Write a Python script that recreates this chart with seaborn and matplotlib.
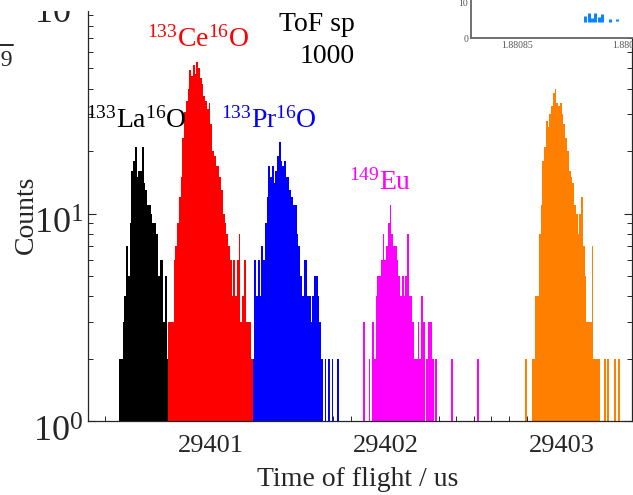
import numpy as np
import pandas as pd
import matplotlib
matplotlib.use("Agg")
import matplotlib.pyplot as plt
import matplotlib.transforms as mtransforms
import seaborn as sns
from matplotlib.ticker import (MultipleLocator, LogLocator, FixedLocator, NullFormatter,
                               FixedFormatter, LogFormatterSciNotation)
from matplotlib.lines import Line2D
from matplotlib.patches import Rectangle

# ---------------- data ----------------
species = ["133La16O", "133Ce16O", "133Pr16O", "149Eu", "other"]
colors = ["#000000", "#FF0000", "#0000FF", "#FF00FF", "#FF8000"]
bin_width = 0.01
starts = [29400.48, 29400.76, 29401.24, 29401.87, 29402.79]

la_counts = [2, 2, 3, 4, 7, 5, 9, 16, 18, 21, 15, 16, 16, 21, 14, 13, 11, 11, 10, 9,
             9, 8, 5, 6, 6, 3, 5, 2]
ce_counts = [3, 3, 3, 6, 7, 9, 12, 15, 23, 31, 35, 40, 49, 46, 52, 47, 54, 50, 45, 42,
             37, 35, 32, 34, 27, 20, 19, 17, 17, 15, 13, 10, 9, 8, 7, 6, 4, 6, 4, 6,
             8, 3, 4, 6, 3, 3, 3, 2]
pr_counts = [2, 6, 4, 6, 4, 7, 6, 9, 12, 17, 15, 17, 14, 16, 19, 22, 18, 17, 18, 15,
             15, 13, 12, 11, 11, 8, 7, 5, 4, 6, 6, 4, 4, 3, 4, 5, 5, 4, 3, 2,
             1, 2, 1, 2, 1, 2, 1, 1, 2, 0]
eu_counts = [3, 0, 0, 2, 0, 3, 2, 4, 5, 5, 6, 8, 6, 7, 9, 11, 8, 7, 7, 6,
             5, 4, 5, 4, 5, 8, 4, 4, 3, 2, 2, 3, 2, 4, 3, 0, 2, 3, 3, 2,
             0, 2, 0, 0, 0, 0, 0, 0, 0, 0, 2, 0, 0, 0, 0, 0, 0, 0, 0, 0,
             0, 0, 0, 0, 0, 2]
x_counts = [2, 0, 0, 0, 2, 2, 4, 4, 8, 11, 18, 21, 28, 26, 30, 33, 38, 40, 34, 33,
            34, 30, 27, 23, 20, 16, 15, 14, 11, 10, 8, 10, 12, 7, 5, 3, 3, 3, 7, 2,
            2, 2, 2, 0, 0, 2, 0, 2, 0, 0, 0, 2, 0, 2]
all_counts = [la_counts, ce_counts, pr_counts, eu_counts, x_counts]

x_ticks = [29401, 29402, 29403]
x_tick_labels = ["29401", "29402", "29403"]
y_ticks = [1, 10, 100]

# inset data
inset_x = [1.8808815, 1.880883, 1.8808845, 1.880886, 1.8808875, 1.880889, 1.8808927, 1.880896]
inset_lo = [4.4, 4.4, 4.4, 4.4, 4.4, 4.4, 4.5, 4.6]
inset_hi = [6.0, 6.9, 5.5, 7.0, 5.9, 6.6, 5.3, 5.2]
inset_xticks = [1.88085, 1.8809]
inset_xtick_labels = ["1.88085", "1.8809"]

# ---------------- frame ----------------
rows = []
for name, st, cnts in zip(species, starts, all_counts):
    for i, c in enumerate(cnts):
        rows.append({"tof": st + (i + 0.5) * bin_width, "counts": c, "species": name})
df = pd.DataFrame(rows)
bin_lo = starts[0]
bin_hi = starts[-1] + len(x_counts) * bin_width

sns.set_theme(style="white")
plt.rcParams["font.family"] = ["Liberation Serif", "DejaVu Serif"]
plt.rcParams["mathtext.fontset"] = "custom"
plt.rcParams["mathtext.rm"] = "Liberation Serif"
plt.rcParams["mathtext.it"] = "Liberation Serif:italic"
plt.rcParams["mathtext.bf"] = "Liberation Serif:bold"

W, H = 633, 495
fig = plt.figure(figsize=(W / 100, H / 100), dpi=100)
ax = fig.add_axes([87.5 / W, (H - 421) / H, (632 - 87.5) / W, 415 / H])

sns.histplot(data=df, x="tof", weights="counts", hue="species", hue_order=species,
             palette=dict(zip(species, colors)), binwidth=bin_width,
             binrange=(bin_lo, bin_hi), multiple="layer",
             element="bars", fill=True, alpha=1, linewidth=0, legend=False, ax=ax)

ax.set_yscale("log")
ax.set_ylim(1, 100)
ax.set_xlim(29400.3, 29403.4)

ax.xaxis.set_major_locator(FixedLocator(x_ticks))
ax.xaxis.set_major_formatter(FixedFormatter(x_tick_labels))
ax.xaxis.set_minor_locator(MultipleLocator(0.1))
ax.yaxis.set_major_locator(FixedLocator(y_ticks))
ax.yaxis.set_major_formatter(LogFormatterSciNotation())
ax.yaxis.set_minor_locator(LogLocator(base=10, subs=np.arange(2, 10)))
ax.yaxis.set_minor_formatter(NullFormatter())

spine_c = "#262626"
for s in ax.spines.values():
    s.set_color(spine_c)
    s.set_linewidth(0.9)
ax.tick_params(axis="both", which="both", direction="in", color=spine_c,
               top=False, right=True, left=True, bottom=True)
ax.tick_params(axis="both", which="major", length=6, width=0.8)
ax.tick_params(axis="both", which="minor", length=3.5, width=0.7)
ax.tick_params(axis="x", labelsize=19, pad=10, labelcolor="#262626")
ax.tick_params(axis="y", labelsize=26, pad=3, labelcolor="#262626")

ax.set_xlabel("Time of flight / us", fontsize=20, color="#262626")
ax.set_ylabel("Counts", fontsize=20, color="#262626")
ax.xaxis.set_label_coords(0.497, -0.112)
ax.yaxis.set_label_coords(-0.09, 0.496)

# shift y tick labels slightly downward (as in the reference)
for tick, dy in zip(ax.yaxis.get_major_ticks(len(y_ticks)), [-0.08, -0.08, -0.05]):
    off = mtransforms.ScaledTranslation(0, dy, fig.dpi_scale_trans)
    tick.label1.set_transform(tick.label1.get_transform() + off)

# peak labels
ax.text(29400.93, 63.4, r"$^{133}$Ce$^{16}$O", color="#FF0000", fontsize=20, ha="center", va="baseline")
ax.text(29400.577, 25.8, r"$^{133}$La$^{16}$O", color="#000000", fontsize=20, ha="center", va="baseline")
ax.text(29401.335, 25.8, r"$^{133}$Pr$^{16}$O", color="#0000FF", fontsize=20, ha="center", va="baseline")
ax.text(29401.966, 13.0, r"$^{149}$Eu", color="#FF00FF", fontsize=20, ha="center", va="baseline")
ax.text(29401.824, 75.8, "ToF sp", color="#000000", fontsize=20, ha="right", va="baseline")
ax.text(29401.824, 53.1, "1000", color="#000000", fontsize=20, ha="right", va="baseline")

# white strip hiding the top edge of the frame (as the crop in the reference)
fig.add_artist(Rectangle((0, 1 - 11 / H), 471 / W, 11 / H, transform=fig.transFigure,
                         facecolor="white", edgecolor="none", zorder=5))

# stray text at left edge (part of a neighbouring element)
fig.text(13 / W, 1 - 66 / H, "29", fontsize=17, ha="right", va="baseline", color="#262626")
fig.add_artist(Line2D([0, 13 / W], [1 - 45 / H, 1 - 45 / H], color="#262626", lw=1.4))

# inset
axins = fig.add_axes([471 / W, (H - 38) / H, 250 / W, 60 / H])
axins.set_zorder(10)
axins.vlines(inset_x, inset_lo, inset_hi, colors="#0A84FF", lw=2.2)
axins.set_xlim(1.880829, 1.8809437)
axins.set_ylim(0, 16.67)
axins.xaxis.set_major_locator(FixedLocator(inset_xticks))
axins.xaxis.set_major_formatter(FixedFormatter(inset_xtick_labels))
axins.yaxis.set_major_locator(FixedLocator([0, 10]))
axins.yaxis.set_major_formatter(FixedFormatter(["0", "10"]))
for s in axins.spines.values():
    s.set_color("#666666")
    s.set_linewidth(1.3)
axins.tick_params(axis="both", direction="in", color="#666666", labelcolor="#555555",
                  labelsize=7, length=4, width=1, pad=2)
axins.set_xlabel("")
axins.set_ylabel("")

fig.savefig("out.png", dpi=100)
